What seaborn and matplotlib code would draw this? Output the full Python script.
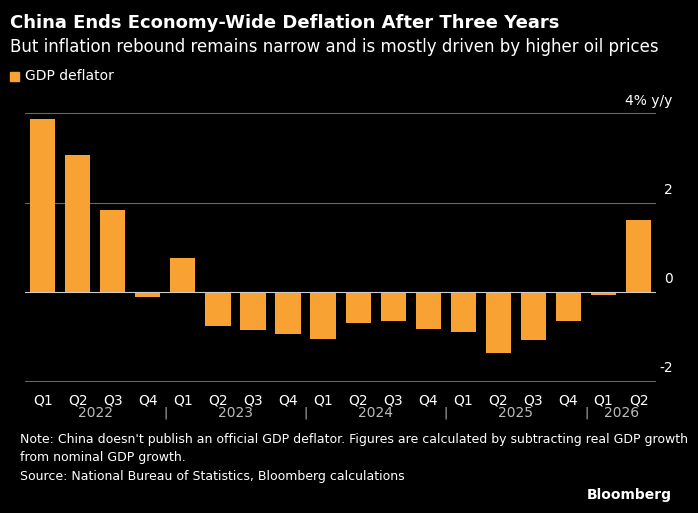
import matplotlib
matplotlib.use("Agg")
import matplotlib.pyplot as plt
import matplotlib.transforms as mtransforms
import seaborn as sns
import pandas as pd

quarters = ["Q1","Q2","Q3","Q4"]*4 + ["Q1","Q2"]
years = ["2022","2023","2024","2025","2026"]
values = [3.87,3.06,1.84,-0.13,0.76,-0.76,-0.85,-0.94,-1.06,-0.70,-0.65,-0.83,-0.90,-1.37,-1.08,-0.65,-0.07,1.60]
yticks = [-2,0,2,4]
ytick_labels = ["-2","0","2","4% y/y"]

df = pd.DataFrame({"idx": list(range(len(values))), "v": values})
ORANGE = "#f7a233"

fig = plt.figure(figsize=(6.98,5.13), dpi=100, facecolor="black")
ax = fig.add_axes([0.036, 0.255, 0.904, 0.55], facecolor="black")
sns.barplot(data=df, x="idx", y="v", color=ORANGE, saturation=1, width=0.72, ax=ax, zorder=3)
ax.set_ylim(-2.03, 4.3)
ax.set_xlim(-0.5, len(values)-0.5)
trans = mtransforms.blended_transform_factory(fig.transFigure, ax.transData)
for y, lab in zip(yticks, ytick_labels):
    ax.axhline(y, color="#666666" if y != 0 else "#cccccc", lw=0.8, zorder=1 if y != 0 else 4)
    fig.text(0.964, y + 0.12, lab, transform=trans, color="white", ha="right", va="bottom", fontsize=10)
for s in ax.spines.values():
    s.set_visible(False)
ax.set_yticks([])
ax.set_xticks(range(len(values)))
ax.set_xticklabels(quarters)
ax.tick_params(axis="x", length=0, colors="white", labelsize=10, pad=8)
ax.set_xlabel(""); ax.set_ylabel("")
for i, yr in enumerate(years):
    c = i*4 + 1.5 if yr != "2026" else 16.5
    ax.text(c, -0.11, yr, transform=ax.get_xaxis_transform(), color="#bbbbbb", ha="center", va="center", fontsize=10)
for b in [3.5, 7.5, 11.5, 15.5]:
    ax.text(b, -0.11, "|", transform=ax.get_xaxis_transform(), color="#bbbbbb", ha="center", va="center", fontsize=9)

fig.text(0.014, 0.955, "China Ends Economy-Wide Deflation After Three Years", color="white", fontsize=13, fontweight="bold", va="center")
fig.text(0.014, 0.908, "But inflation rebound remains narrow and is mostly driven by higher oil prices", color="white", fontsize=12, va="center")
fig.patches.append(plt.Rectangle((0.014, 0.842), 0.013, 0.018, color=ORANGE, transform=fig.transFigure, figure=fig))
fig.text(0.036, 0.851, "GDP deflator", color="white", fontsize=10, va="center")
fig.text(0.028, 0.125, "Note: China doesn't publish an official GDP deflator. Figures are calculated by subtracting real GDP growth\nfrom nominal GDP growth.", color="white", fontsize=9, va="center", linespacing=1.5)
fig.text(0.028, 0.072, "Source: National Bureau of Statistics, Bloomberg calculations", color="white", fontsize=9, va="center")
fig.text(0.963, 0.035, "Bloomberg", color="white", fontsize=10, fontweight="bold", ha="right", va="center")
fig.savefig("out.png", dpi=100, facecolor="black")
